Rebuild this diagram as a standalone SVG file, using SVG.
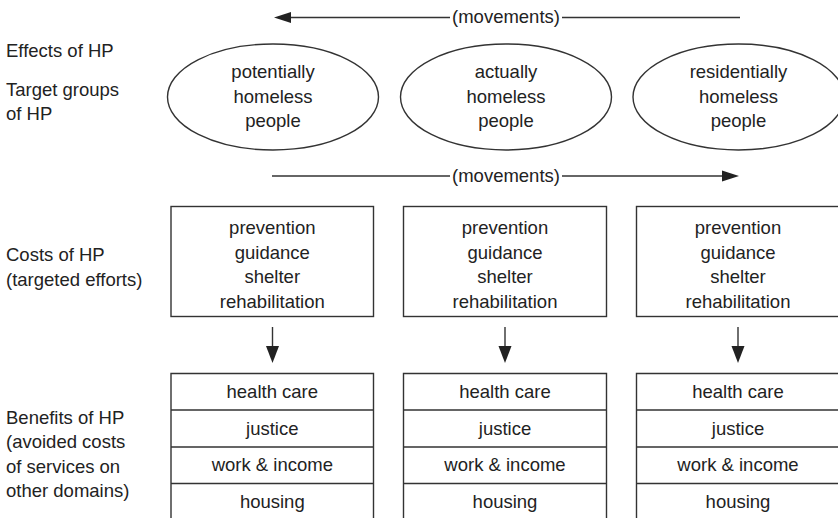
<svg xmlns="http://www.w3.org/2000/svg" width="838" height="518" viewBox="0 0 838 518">
  <style>
    text { font-family: "Liberation Sans", Arial, sans-serif; font-size: 18.5px; fill: #222; }
    .c { text-anchor: middle; }
    .shape { fill: none; stroke: #333; stroke-width: 1.4; }
    .line { fill: none; stroke: #333; stroke-width: 1.4; }
    .head { fill: #222; stroke: none; }
  </style>

  <!-- row labels on the left -->
  <g id="labels">
    <text x="6" y="57">Effects of HP</text>
    <text x="6" y="96">Target groups</text>
    <text x="6" y="120">of HP</text>
    <text x="6" y="261">Costs of HP</text>
    <text x="6" y="285.5">(targeted efforts)</text>
    <text x="6" y="423.5">Benefits of HP</text>
    <text x="6" y="448">(avoided costs</text>
    <text x="6" y="472.5">of services on</text>
    <text x="6" y="497">other domains)</text>
  </g>

  <!-- movement arrows between the target groups -->
  <g id="connectors">
    <line class="line" x1="289" y1="17.5" x2="450" y2="17.5"/>
    <line class="line" x1="562" y1="17.5" x2="740" y2="17.5"/>
    <polygon class="head" points="274,17.5 291,12 291,23"/>
    <text class="c" x="506" y="23">(movements)</text>

    <line class="line" x1="272" y1="176" x2="450" y2="176"/>
    <line class="line" x1="562" y1="176" x2="724" y2="176"/>
    <polygon class="head" points="739,176 722,170.5 722,181.5"/>
    <text class="c" x="506" y="181.5">(movements)</text>

    <line class="line" x1="272.5" y1="327" x2="272.5" y2="348"/>
    <polygon class="head" points="266,346 279,346 272.5,363"/>
    <line class="line" x1="505" y1="327" x2="505" y2="348"/>
    <polygon class="head" points="498.5,346 511.5,346 505,363"/>
    <line class="line" x1="738" y1="327" x2="738" y2="348"/>
    <polygon class="head" points="731.5,346 744.5,346 738,363"/>
  </g>

  <!-- target groups -->
  <g id="group-potential">
    <ellipse class="shape" cx="273" cy="97" rx="105.5" ry="53"/>
    <text class="c" x="273" y="78">potentially</text>
    <text class="c" x="273" y="102.5">homeless</text>
    <text class="c" x="273" y="127">people</text>
  </g>
  <g id="group-actual">
    <ellipse class="shape" cx="506" cy="97" rx="105.5" ry="53"/>
    <text class="c" x="506" y="78">actually</text>
    <text class="c" x="506" y="102.5">homeless</text>
    <text class="c" x="506" y="127">people</text>
  </g>
  <g id="group-residential">
    <ellipse class="shape" cx="738.5" cy="97" rx="105.5" ry="53"/>
    <text class="c" x="738.5" y="78">residentially</text>
    <text class="c" x="738.5" y="102.5">homeless</text>
    <text class="c" x="738.5" y="127">people</text>
  </g>

  <!-- costs: targeted efforts -->
  <g id="costs-potential">
    <rect class="shape" x="171" y="206.5" width="202.5" height="110"/>
    <text class="c" x="272.3" y="234">prevention</text>
    <text class="c" x="272.3" y="258.5">guidance</text>
    <text class="c" x="272.3" y="283">shelter</text>
    <text class="c" x="272.3" y="307.5">rehabilitation</text>
  </g>
  <g id="costs-actual">
    <rect class="shape" x="403.5" y="206.5" width="203" height="110"/>
    <text class="c" x="505" y="234">prevention</text>
    <text class="c" x="505" y="258.5">guidance</text>
    <text class="c" x="505" y="283">shelter</text>
    <text class="c" x="505" y="307.5">rehabilitation</text>
  </g>
  <g id="costs-residential">
    <rect class="shape" x="636.5" y="206.5" width="203" height="110"/>
    <text class="c" x="738" y="234">prevention</text>
    <text class="c" x="738" y="258.5">guidance</text>
    <text class="c" x="738" y="283">shelter</text>
    <text class="c" x="738" y="307.5">rehabilitation</text>
  </g>

  <!-- benefits: avoided costs on other domains -->
  <g id="benefits-potential">
    <path class="shape" d="M171,520 V373.5 H373.5 V520 M171,410 H373.5 M171,447 H373.5 M171,483.5 H373.5"/>
    <text class="c" x="272.3" y="398">health care</text>
    <text class="c" x="272.3" y="434.5">justice</text>
    <text class="c" x="272.3" y="471">work &amp; income</text>
    <text class="c" x="272.3" y="507.5">housing</text>
  </g>
  <g id="benefits-actual">
    <path class="shape" d="M403.5,520 V373.5 H606.5 V520 M403.5,410 H606.5 M403.5,447 H606.5 M403.5,483.5 H606.5"/>
    <text class="c" x="505" y="398">health care</text>
    <text class="c" x="505" y="434.5">justice</text>
    <text class="c" x="505" y="471">work &amp; income</text>
    <text class="c" x="505" y="507.5">housing</text>
  </g>
  <g id="benefits-residential">
    <path class="shape" d="M636.5,520 V373.5 H840 M636.5,410 H840 M636.5,447 H840 M636.5,483.5 H840"/>
    <text class="c" x="738" y="398">health care</text>
    <text class="c" x="738" y="434.5">justice</text>
    <text class="c" x="738" y="471">work &amp; income</text>
    <text class="c" x="738" y="507.5">housing</text>
  </g>
</svg>
